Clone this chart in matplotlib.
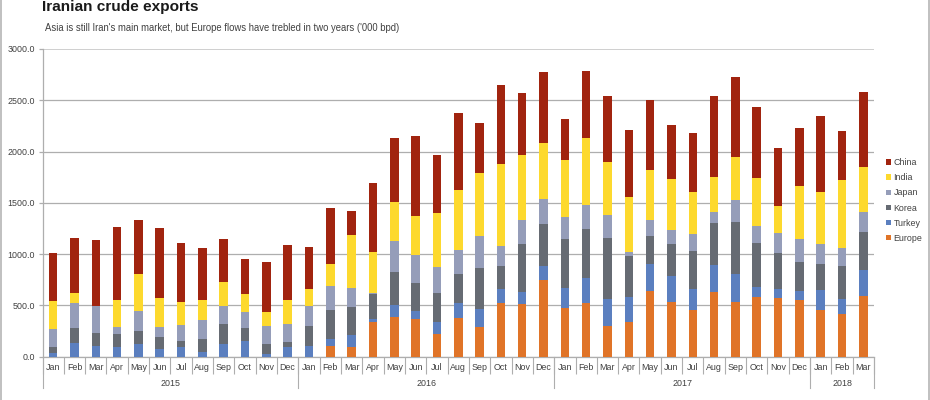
import matplotlib
matplotlib.use('Agg')
import matplotlib.pyplot as plt
from matplotlib.lines import Line2D
import numpy as np

plt.rcParams['font.family'] = ['Liberation Sans', 'DejaVu Sans']

# values, '000 bpd
months = ['Jan', 'Feb', 'Mar', 'Apr', 'May', 'Jun', 'Jul', 'Aug', 'Sep', 'Oct', 'Nov', 'Dec'] * 3 + ['Jan', 'Feb', 'Mar']
years = ['2015', '2016', '2017', '2018']
year_lengths = [12, 12, 12, 3]

europe = [0, 0, 0, 0, 0, 0, 0, 0, 0, 0, 0, 0,
          0, 98, 94, 332, 381, 365, 221, 375, 287, 518, 511, 746,
          472, 518, 293, 339, 638, 534, 456, 629, 534, 583, 567, 550,
          453, 410, 586]
turkey = [30, 127, 98, 91, 124, 78, 94, 46, 124, 147, 29, 88,
          98, 75, 118, 33, 121, 75, 111, 149, 172, 140, 114, 133,
          199, 247, 264, 241, 267, 254, 202, 263, 267, 94, 94, 92,
          195, 153, 261]
korea = [60, 150, 127, 127, 127, 114, 59, 127, 195, 130, 95, 55,
         202, 276, 267, 244, 319, 273, 284, 284, 401, 221, 469, 411,
         479, 479, 596, 404, 267, 313, 368, 408, 508, 434, 345, 283,
         251, 323, 371]
japan = [175, 241, 264, 72, 192, 98, 156, 182, 173, 153, 172, 170,
         195, 235, 192, 13, 306, 274, 260, 234, 312, 202, 241, 247,
         208, 231, 225, 35, 160, 133, 166, 107, 215, 162, 199, 221,
         202, 176, 195]
india = [275, 104, 3, 264, 365, 280, 225, 199, 238, 179, 134, 241,
         166, 221, 514, 397, 378, 384, 524, 580, 616, 795, 626, 544,
         560, 652, 524, 541, 489, 502, 417, 342, 420, 469, 264, 515,
         501, 664, 440]
china = [473, 538, 645, 710, 524, 680, 573, 504, 416, 342, 495, 531,
         410, 544, 238, 671, 622, 782, 567, 749, 492, 775, 612, 691,
         401, 661, 635, 645, 684, 518, 576, 788, 785, 694, 563, 573,
         749, 472, 730]

series = [('Europe', europe, '#e07428'),
          ('Turkey', turkey, '#5b7fbf'),
          ('Korea', korea, '#666b73'),
          ('Japan', japan, '#959db9'),
          ('India', india, '#fdd92e'),
          ('China', china, '#a1240f')]

grey = '#aeaeae'
text_col = '#404040'

fig = plt.figure(figsize=(9.3, 4), dpi=100)
ax = fig.add_axes([42.5 / 930, 1 - 356.5 / 400, (874 - 42.5) / 930, (356.5 - 49) / 400])

x = np.arange(len(months))
bottom = np.zeros(len(months))
for name, vals, col in series:
    ax.bar(x, vals, width=0.4, bottom=bottom, color=col, label=name, zorder=3)
    bottom += np.array(vals)

ax.set_xlim(-0.5, len(months) - 0.5)
ax.set_ylim(0, 3000)
ax.set_yticks(np.arange(0, 3001, 500))
ax.set_yticklabels([f'{v:.1f}' for v in np.arange(0, 3001, 500)], fontsize=6.4, color=text_col)
ax.grid(axis='y', color=grey, linewidth=0.9, zorder=0)
ax.get_ygridlines()[-1].set(color='#cfcfcf', linewidth=1.4)
ax.tick_params(axis='y', length=3, color=grey, width=0.9, pad=2.5)

# month labels and the separators between them
ax.set_xticks(x)
ax.set_xticklabels(months, fontsize=6.4, color=text_col)
ax.set_xticks(np.arange(len(months) + 1) - 0.5, minor=True)
ax.tick_params(axis='x', which='major', length=0, pad=4.5)
ax.tick_params(axis='x', which='minor', length=12, color=grey, width=0.8)

for s in ['top', 'right']:
    ax.spines[s].set_visible(False)
for s in ['left', 'bottom']:
    ax.spines[s].set_color(grey)
    ax.spines[s].set_linewidth(0.9)

# year row under the months
trans = ax.get_xaxis_transform()
edges = np.concatenate([[0], np.cumsum(year_lengths)]) - 0.5
for i, yr in enumerate(years):
    ax.text((edges[i] + edges[i + 1]) / 2, -26.5 / 307.5, yr, transform=trans,
            ha='center', va='center', fontsize=6.4, color=text_col)
for e in edges:
    ax.add_line(Line2D([e, e], [0, -31 / 307.5], transform=trans, color=grey,
                       linewidth=0.8, clip_on=False))

handles, labels = ax.get_legend_handles_labels()
ax.legend(handles[::-1], labels[::-1], loc='center left', bbox_to_anchor=(886 / 930, 1 - 200.5 / 400),
          bbox_transform=fig.transFigure, frameon=False, fontsize=6.4, labelcolor=text_col,
          handlelength=0.6, handleheight=0.6, handletextpad=0.25, labelspacing=0.68, borderpad=0, borderaxespad=0)

fig.text(42 / 930, 1 - 11.5 / 400, 'Iranian crude exports', fontsize=11.1, fontweight='bold', color='#1a1a1a', va='baseline')
fig.text(45 / 930, 1 - 31 / 400, "Asia is still Iran's main market, but Europe flows have trebled in two years ('000 bpd)",
         fontsize=6.85, color=text_col, va='baseline')

# thin frame left and right of the picture
for fx in [1 / 930, 929 / 930]:
    fig.add_artist(Line2D([fx, fx], [0, 1], transform=fig.transFigure, color='#b5b5b5', linewidth=1.2))

fig.savefig('out.png', dpi=100)
